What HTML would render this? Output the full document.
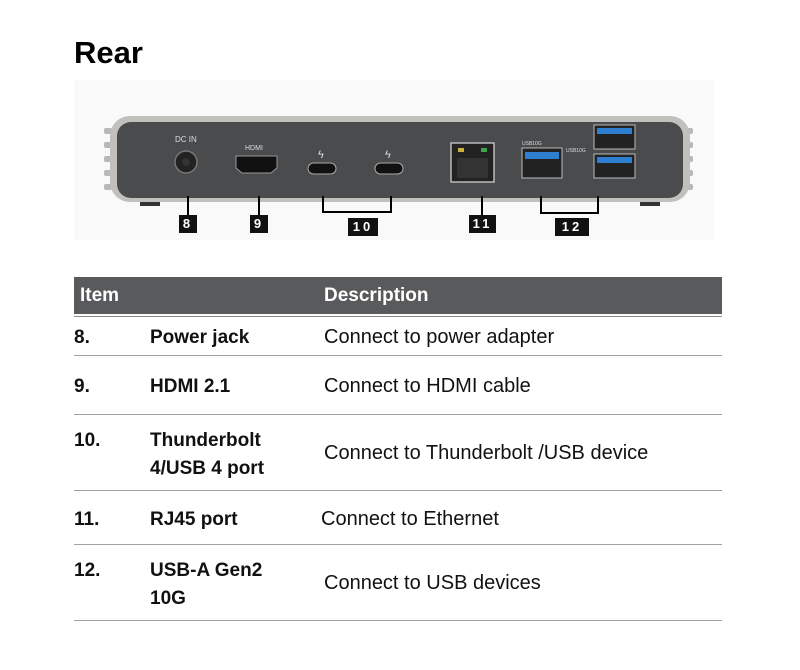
<!DOCTYPE html>
<html><head><meta charset="utf-8"><style>
body{margin:0;width:800px;height:670px;background:#fff;position:relative;font-family:"Liberation Sans",sans-serif;overflow:hidden}
.a{position:absolute}
.t{position:absolute;font-size:20px;color:#111;white-space:nowrap}
.b{font-weight:bold;font-size:19px}
.ln{position:absolute;left:74px;width:648px;height:1px;background:#a0a0a0}
.lab{position:absolute;background:#111;color:#fff;font-weight:bold;font-size:13px;text-align:center;line-height:18px;height:18px;letter-spacing:3px}
</style></head><body>
<div class="t" style="left:74px;top:35px;font-size:31px;font-weight:bold;color:#000">Rear</div>

<svg class="a" style="left:74px;top:80px" width="640" height="160" viewBox="74 80 640 160">
<rect x="74" y="80" width="640" height="160" fill="#f9f9f9"/>
<g fill="#b8b8b8">
<rect x="104" y="128" width="8" height="6" rx="2"/><rect x="104" y="142" width="8" height="6" rx="2"/><rect x="104" y="156" width="8" height="6" rx="2"/><rect x="104" y="170" width="8" height="6" rx="2"/><rect x="104" y="184" width="8" height="6" rx="2"/>
<rect x="685" y="128" width="8" height="6" rx="2"/><rect x="685" y="142" width="8" height="6" rx="2"/><rect x="685" y="156" width="8" height="6" rx="2"/><rect x="685" y="170" width="8" height="6" rx="2"/><rect x="685" y="184" width="8" height="6" rx="2"/>
</g>
<rect x="110" y="116" width="580" height="86" rx="20" fill="#c2c0bc"/>
<rect x="117" y="122" width="566" height="76" rx="14" fill="#4a4b4d"/>
<rect x="140" y="202" width="20" height="4" fill="#333"/><rect x="640" y="202" width="20" height="4" fill="#333"/>
<text x="175" y="142" font-size="8" fill="#ddd" font-family="Liberation Sans">DC IN</text>
<circle cx="186" cy="162" r="11" fill="#222" stroke="#777" stroke-width="1.5"/><circle cx="186" cy="162" r="4" fill="#333"/>
<text x="245" y="150" font-size="7" fill="#ddd" font-family="Liberation Sans">HDMI</text>
<path d="M236 156 H277 V168 L271 173 H242 L236 168 Z" fill="#111" stroke="#999"/>
<text x="318" y="158" font-size="11" fill="#ddd">ϟ</text>
<text x="385" y="158" font-size="11" fill="#ddd">ϟ</text>
<rect x="308" y="163" width="28" height="11" rx="5.5" fill="#111" stroke="#aaa"/>
<rect x="375" y="163" width="28" height="11" rx="5.5" fill="#111" stroke="#aaa"/>
<rect x="451" y="143" width="43" height="39" fill="#222" stroke="#bbb" stroke-width="1.5"/>
<rect x="458" y="148" width="6" height="4" fill="#c9b23a"/><rect x="481" y="148" width="6" height="4" fill="#3ea34a"/>
<rect x="457" y="158" width="31" height="20" fill="#333"/>
<text x="522" y="145" font-size="5" fill="#ddd">USB10G</text>
<rect x="522" y="148" width="40" height="30" fill="#222" stroke="#bbb"/><rect x="525" y="152" width="34" height="7" fill="#2f7fd0"/>
<text x="566" y="152" font-size="5" fill="#ddd">USB10G</text>
<rect x="594" y="125" width="41" height="24" fill="#222" stroke="#bbb"/><rect x="597" y="128" width="35" height="6" fill="#2f7fd0"/>
<rect x="594" y="154" width="41" height="24" fill="#222" stroke="#bbb"/><rect x="597" y="157" width="35" height="6" fill="#2f7fd0"/>
<g stroke="#000" stroke-width="2" fill="none">
<path d="M188 196 V215"/><path d="M259 196 V215"/>
<path d="M323 196 V212 H391 V196"/>
<path d="M482 196 V215"/>
<path d="M541 196 V213 H598 V196"/>
</g>
</svg>
<div class="lab" style="left:179px;top:215px;width:18px">8</div>
<div class="lab" style="left:250px;top:215px;width:18px">9</div>
<div class="lab" style="left:348px;top:218px;width:30px">10</div>
<div class="lab" style="left:469px;top:215px;width:27px">11</div>
<div class="lab" style="left:555px;top:218px;width:34px">12</div>

<div class="a" style="left:74px;top:277px;width:648px;height:37px;background:#595a5c"></div>
<div class="ln" style="top:316px;background:#8a8a8a"></div>
<div class="t b" style="left:80px;top:285px;color:#fff">Item</div>
<div class="t b" style="left:324px;top:285px;color:#fff">Description</div>

<div class="t b" style="left:74px;top:327px">8.</div>
<div class="t b" style="left:150px;top:327px">Power jack</div>
<div class="t" style="left:324px;top:326px">Connect to power adapter</div>
<div class="ln" style="top:355px"></div>

<div class="t b" style="left:74px;top:376px">9.</div>
<div class="t b" style="left:150px;top:376px">HDMI 2.1</div>
<div class="t" style="left:324px;top:375px">Connect to HDMI cable</div>
<div class="ln" style="top:414px"></div>

<div class="t b" style="left:74px;top:430px">10.</div>
<div class="t b" style="left:150px;top:430px">Thunderbolt</div>
<div class="t b" style="left:150px;top:458px">4/USB 4 port</div>
<div class="t" style="left:324px;top:442px">Connect to Thunderbolt /USB device</div>
<div class="ln" style="top:490px"></div>

<div class="t b" style="left:74px;top:509px">11.</div>
<div class="t b" style="left:150px;top:509px">RJ45 port</div>
<div class="t" style="left:321px;top:508px">Connect to Ethernet</div>
<div class="ln" style="top:544px"></div>

<div class="t b" style="left:74px;top:560px">12.</div>
<div class="t b" style="left:150px;top:560px">USB-A Gen2</div>
<div class="t b" style="left:150px;top:588px">10G</div>
<div class="t" style="left:324px;top:572px">Connect to USB devices</div>
<div class="ln" style="top:620px"></div>
</body></html>
